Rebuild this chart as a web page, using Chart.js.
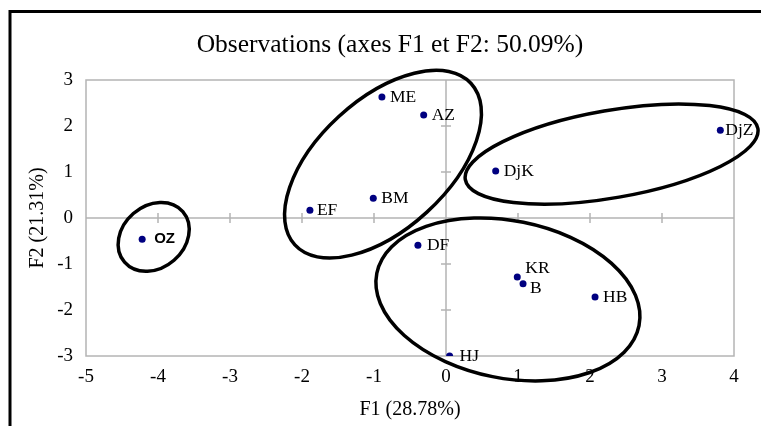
<!DOCTYPE html>
<html><head><meta charset="utf-8">
<script src="https://cdn.jsdelivr.net/npm/chart.js@4.4.0/dist/chart.umd.min.js"></script>
<style>html,body{margin:0;padding:0;background:#fff;overflow:hidden}</style>
</head><body><canvas id="c" width="761" height="426"></canvas>
<script>
const observations = ['ME','AZ','DjZ','DjK','BM','EF','OZ','DF','KR','B','HB','HJ'];
const f1Values = [-0.89,-0.31,3.81,0.69,-1.01,-1.89,-4.22,-0.39,0.99,1.07,2.07,0.05];
const f2Values = [2.63,2.24,1.91,1.02,0.43,0.17,-0.46,-0.59,-1.28,-1.43,-1.72,-3.00];
const xTicks = [-5,-4,-3,-2,-1,0,1,2,3,4];
const yTicks = [-3,-2,-1,0,1,2,3];
const titleText = 'Observations (axes F1 et F2: 50.09%)';
const xTitle = 'F1 (28.78%)';
const yTitle = 'F2 (21.31%)';

// label placement (px offsets from the point), default [8,0]
const labelOffsets = {KR:[8,-8], B:[7,5], DjZ:[5,0], OZ:[12,0], EF:[7,0], HJ:[10,0], DF:[9,0]};
// group ellipses: centre in data units, semi-axes in px, rotation in degrees
const groups = [
  {cx:-4.06, cy:-0.41, a:38.6, b:31, rot:-41},
  {cx:-0.875, cy:1.17, a:119.5, b:65, rot:-42.5},
  {cx:2.30, cy:1.39, a:148.5, b:43.7, rot:-9.9},
  {cx:0.86, cy:-1.77, a:133.7, b:78.7, rot:11.3}
];

const SERIF = '"Liberation Serif", "Times New Roman", serif';
const SANS = '"Liberation Sans", Arial, sans-serif';

const decor = {
  id: 'decor',
  beforeDatasetsDraw(chart) {
    const {ctx, chartArea: ca, scales: {x, y}} = chart;
    ctx.save();
    ctx.strokeStyle = '#000';
    ctx.lineWidth = 3;
    ctx.beginPath();
    ctx.moveTo(10, 430); ctx.lineTo(10, 11.5); ctx.lineTo(765, 11.5);
    ctx.stroke();
    ctx.strokeStyle = '#b4b4b4';
    ctx.lineWidth = 1.5;
    ctx.strokeRect(ca.left, ca.top, ca.right - ca.left, ca.bottom - ca.top);
    const x0 = x.getPixelForValue(0), y0 = y.getPixelForValue(0);
    ctx.beginPath();
    ctx.moveTo(ca.left, y0); ctx.lineTo(ca.right, y0);
    ctx.moveTo(x0, ca.top); ctx.lineTo(x0, ca.bottom);
    xTicks.forEach(v => {
      if (v === xTicks[0] || v === xTicks[xTicks.length - 1] || v === 0) return;
      const px = x.getPixelForValue(v);
      ctx.moveTo(px, y0 - 5); ctx.lineTo(px, y0 + 5);
    });
    yTicks.forEach(v => {
      if (v === yTicks[0] || v === yTicks[yTicks.length - 1] || v === 0) return;
      const py = y.getPixelForValue(v);
      ctx.moveTo(x0 - 5, py); ctx.lineTo(x0 + 5, py);
    });
    ctx.stroke();
    ctx.restore();
  },
  afterDatasetsDraw(chart) {
    const {ctx, scales: {x, y}} = chart;
    ctx.save();
    ctx.strokeStyle = '#000';
    ctx.lineWidth = 3.5;
    groups.forEach(g => {
      ctx.beginPath();
      ctx.ellipse(x.getPixelForValue(g.cx), y.getPixelForValue(g.cy), g.a, g.b, g.rot * Math.PI / 180, 0, Math.PI * 2);
      ctx.stroke();
    });
    const meta = chart.getDatasetMeta(0);
    ctx.fillStyle = '#000';
    ctx.textAlign = 'left';
    ctx.textBaseline = 'middle';
    meta.data.forEach((pt, i) => {
      const name = observations[i];
      const off = labelOffsets[name] || [8, 0];
      ctx.font = name === 'OZ' ? 'bold 15px ' + SANS : '17.5px ' + SERIF;
      ctx.fillText(name, pt.x + off[0], pt.y + off[1]);
    });
    ctx.font = '25.5px ' + SERIF;
    ctx.textAlign = 'center';
    ctx.fillText(titleText, 390, 45);
    ctx.restore();
  }
};

new Chart(document.getElementById('c'), {
  type: 'scatter',
  data: {
    datasets: [{
      data: f1Values.map((v, i) => ({x: v, y: f2Values[i]})),
      backgroundColor: '#000080',
      borderColor: '#000080',
      pointRadius: 3.5,
      pointHoverRadius: 3.5,
      borderWidth: 0
    }]
  },
  options: {
    responsive: false,
    animation: false,
    events: [],
    layout: {padding: {left: 0, right: 27, top: 80, bottom: 0}},
    plugins: {legend: {display: false}, tooltip: {enabled: false}, title: {display: false}},
    scales: {
      x: {
        type: 'linear', min: -5, max: 4,
        afterBuildTicks: s => { s.ticks = xTicks.map(v => ({value: v})); },
        afterFit: s => { s.height = 70; },
        grid: {display: false, drawTicks: false}, border: {display: false},
        ticks: {color: '#000', font: {family: SERIF, size: 19}, padding: 10, maxRotation: 0, callback: v => String(v)},
        title: {display: true, text: xTitle, color: '#000', font: {family: SERIF, size: 20}, padding: {top: 0, bottom: 4}}
      },
      y: {
        type: 'linear', min: -3, max: 3,
        afterBuildTicks: s => { s.ticks = yTicks.map(v => ({value: v})); },
        afterFit: s => { s.width = 86; },
        grid: {display: false, drawTicks: false}, border: {display: false},
        ticks: {color: '#000', font: {family: SERIF, size: 19}, padding: 13, callback: v => String(v)},
        title: {display: true, text: yTitle, color: '#000', font: {family: SERIF, size: 20}, padding: {top: 26, bottom: 0}}
      }
    }
  },
  plugins: [decor]
});
</script>
</body></html>
